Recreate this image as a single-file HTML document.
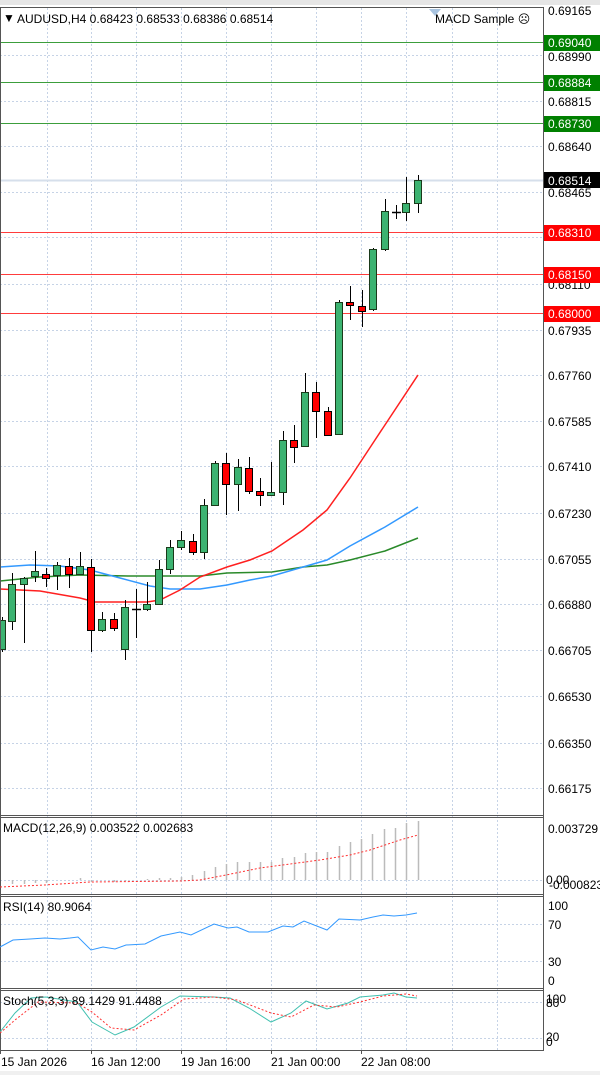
<!DOCTYPE html>
<html><head><meta charset="utf-8"><style>
html,body{margin:0;padding:0;background:#fff;width:600px;height:1075px;overflow:hidden}
svg{display:block}
text{font-family:"Liberation Sans",sans-serif;font-size:12px;fill:#000}
</style></head><body>
<svg width="600" height="1075" viewBox="0 0 600 1075">
<rect x="0" y="0" width="600" height="1075" fill="#fff"/>
<rect x="0" y="0" width="600" height="5" fill="#e6e6e6"/>
<!-- vertical grid -->
<g stroke="#c6d3e6" stroke-width="1" stroke-dasharray="2,2">
<line x1="47.5" y1="8" x2="47.5" y2="1050"/><line x1="91.5" y1="8" x2="91.5" y2="1050"/><line x1="136.5" y1="8" x2="136.5" y2="1050"/><line x1="181.5" y1="8" x2="181.5" y2="1050"/><line x1="226.5" y1="8" x2="226.5" y2="1050"/><line x1="271.5" y1="8" x2="271.5" y2="1050"/><line x1="316.5" y1="8" x2="316.5" y2="1050"/><line x1="361.5" y1="8" x2="361.5" y2="1050"/><line x1="406.5" y1="8" x2="406.5" y2="1050"/><line x1="452.5" y1="8" x2="452.5" y2="1050"/><line x1="497.5" y1="8" x2="497.5" y2="1050"/>
</g>
<g stroke="#c6d3e6" stroke-width="1" stroke-dasharray="2,2">
<line x1="0" y1="55.5" x2="543" y2="55.5"/><line x1="0" y1="101.5" x2="543" y2="101.5"/><line x1="0" y1="146.5" x2="543" y2="146.5"/><line x1="0" y1="192.5" x2="543" y2="192.5"/><line x1="0" y1="237.5" x2="543" y2="237.5"/><line x1="0" y1="284.5" x2="543" y2="284.5"/><line x1="0" y1="330.5" x2="543" y2="330.5"/><line x1="0" y1="375.5" x2="543" y2="375.5"/><line x1="0" y1="421.5" x2="543" y2="421.5"/><line x1="0" y1="466.5" x2="543" y2="466.5"/><line x1="0" y1="513.5" x2="543" y2="513.5"/><line x1="0" y1="559.5" x2="543" y2="559.5"/><line x1="0" y1="604.5" x2="543" y2="604.5"/><line x1="0" y1="650.5" x2="543" y2="650.5"/><line x1="0" y1="696.5" x2="543" y2="696.5"/><line x1="0" y1="743.5" x2="543" y2="743.5"/><line x1="0" y1="788.5" x2="543" y2="788.5"/>
<line x1="0" y1="880.5" x2="543" y2="880.5"/>
<line x1="0" y1="924.5" x2="543" y2="924.5"/><line x1="0" y1="961.5" x2="543" y2="961.5"/>
<line x1="0" y1="1002.5" x2="543" y2="1002.5"/><line x1="0" y1="1038.5" x2="543" y2="1038.5"/>
</g>
<!-- levels -->
<line x1="0" y1="180.5" x2="543" y2="180.5" stroke="#d6dfeb" stroke-width="2"/>
<g stroke="#3c9e3c" stroke-width="1"><line x1="0" y1="42.5" x2="543" y2="42.5"/><line x1="0" y1="82.5" x2="543" y2="82.5"/><line x1="0" y1="123.5" x2="543" y2="123.5"/></g>
<g stroke="#ff3c3c" stroke-width="1"><line x1="0" y1="232.5" x2="543" y2="232.5"/><line x1="0" y1="274.5" x2="543" y2="274.5"/><line x1="0" y1="313.5" x2="543" y2="313.5"/></g>
<!-- MAs -->
<polyline fill="none" stroke="#2a8a2a" stroke-width="1.5" points="0,581 40,577 80,575 130,576 200,576 227,573 272,572 303,567 327,565 350,560 385,551 418,538"/>
<polyline fill="none" stroke="#3399ff" stroke-width="1.5" points="0,567 30,565 60,566 90,570 120,578 150,586 170,589 200,589 227,585 250,580 272,576 303,567 327,560 350,546 385,527 418,507"/>
<polyline fill="none" stroke="#ff2020" stroke-width="1.5" points="0,589 40,591 80,598 95,602 147,602 160,600 180,590 200,577 227,567 250,560 272,551 303,530 327,510 350,478 375,440 418,375"/>
<!-- candles -->
<g stroke="#000" stroke-width="1">
<line x1="2.5" y1="617" x2="2.5" y2="652"/><line x1="12.5" y1="573" x2="12.5" y2="630"/><line x1="24.5" y1="577" x2="24.5" y2="643"/><line x1="35.5" y1="551" x2="35.5" y2="582"/><line x1="46.5" y1="568" x2="46.5" y2="587"/><line x1="57.5" y1="562" x2="57.5" y2="590"/><line x1="69.5" y1="558" x2="69.5" y2="588"/><line x1="80.5" y1="552" x2="80.5" y2="575"/><line x1="91.5" y1="559" x2="91.5" y2="652"/><line x1="102.5" y1="612" x2="102.5" y2="632"/><line x1="114.5" y1="613" x2="114.5" y2="631"/><line x1="125.5" y1="600" x2="125.5" y2="660"/><line x1="136.5" y1="589" x2="136.5" y2="638"/><line x1="147.5" y1="582" x2="147.5" y2="611"/><line x1="159.5" y1="560" x2="159.5" y2="604"/><line x1="170.5" y1="540" x2="170.5" y2="574"/><line x1="181.5" y1="531" x2="181.5" y2="550"/><line x1="193.5" y1="534" x2="193.5" y2="555"/><line x1="204.5" y1="499" x2="204.5" y2="559"/><line x1="215.5" y1="461" x2="215.5" y2="505"/><line x1="226.5" y1="453" x2="226.5" y2="515"/><line x1="238.5" y1="459" x2="238.5" y2="511"/><line x1="249.5" y1="457" x2="249.5" y2="494"/><line x1="260.5" y1="478" x2="260.5" y2="506"/><line x1="271.5" y1="462" x2="271.5" y2="496"/><line x1="283.5" y1="431" x2="283.5" y2="505"/><line x1="294.5" y1="425" x2="294.5" y2="463"/><line x1="305.5" y1="373" x2="305.5" y2="447"/><line x1="316.5" y1="382" x2="316.5" y2="438"/><line x1="328.5" y1="407" x2="328.5" y2="436"/><line x1="339.5" y1="300" x2="339.5" y2="435"/><line x1="350.5" y1="286" x2="350.5" y2="320"/><line x1="362.5" y1="290" x2="362.5" y2="327"/><line x1="373.5" y1="248" x2="373.5" y2="311"/><line x1="385.5" y1="199" x2="385.5" y2="251"/><line x1="396.5" y1="205" x2="396.5" y2="219"/><line x1="406.5" y1="177" x2="406.5" y2="221"/><line x1="418.5" y1="175" x2="418.5" y2="213"/>
</g>
<g stroke="#1a3a1a" stroke-width="1" fill="#3cb371">
<rect x="-1.5" y="620.5" width="7" height="29"/><rect x="8.5" y="584.5" width="7" height="37"/><rect x="20.5" y="578.5" width="7" height="6"/><rect x="31.5" y="571.5" width="7" height="5"/><rect x="53.5" y="565.5" width="7" height="10"/><rect x="76.5" y="566.5" width="7" height="8"/><rect x="98.5" y="619.5" width="7" height="11"/><rect x="121.5" y="607.5" width="7" height="42"/><rect x="143.5" y="604.5" width="7" height="5"/><rect x="155.5" y="569.5" width="7" height="35"/><rect x="166.5" y="547.5" width="7" height="22"/><rect x="177.5" y="540.5" width="7" height="7"/><rect x="200.5" y="505.5" width="7" height="47"/><rect x="211.5" y="463.5" width="7" height="42"/><rect x="234.5" y="467.5" width="7" height="17"/><rect x="267.5" y="492.5" width="7" height="3"/><rect x="279.5" y="440.5" width="7" height="52"/><rect x="301.5" y="392.5" width="7" height="54"/><rect x="335.5" y="302.5" width="7" height="132"/><rect x="369.5" y="249.5" width="7" height="60"/><rect x="381.5" y="211.5" width="7" height="38"/><rect x="402.5" y="203.5" width="7" height="9"/><rect x="414.5" y="180.5" width="7" height="23"/>
</g>
<g stroke="#000" stroke-width="1" fill="#ff0000">
<rect x="42.5" y="574.5" width="7" height="4"/><rect x="65.5" y="566.5" width="7" height="8"/><rect x="87.5" y="567.5" width="7" height="63"/><rect x="110.5" y="619.5" width="7" height="9"/><rect x="189.5" y="541.5" width="7" height="11"/><rect x="222.5" y="463.5" width="7" height="21"/><rect x="245.5" y="468.5" width="7" height="23"/><rect x="256.5" y="491.5" width="7" height="4"/><rect x="290.5" y="440.5" width="7" height="7"/><rect x="312.5" y="392.5" width="7" height="19"/><rect x="324.5" y="411.5" width="7" height="24"/><rect x="346.5" y="302.5" width="7" height="3"/><rect x="358.5" y="306.5" width="7" height="5"/>
</g>
<g stroke="#000" stroke-width="1.5"><line x1="132" y1="609.5" x2="141" y2="609.5"/><line x1="392" y1="212.5" x2="401" y2="212.5"/></g>
<!-- panel borders -->
<g fill="none" stroke="#555" stroke-width="1">
<line x1="0.5" y1="7" x2="0.5" y2="1050"/>
<line x1="0" y1="7.5" x2="544" y2="7.5"/>
<line x1="543.5" y1="7" x2="543.5" y2="1050"/>
<line x1="0" y1="815.5" x2="544" y2="815.5"/><line x1="0" y1="817.5" x2="544" y2="817.5"/>
<line x1="0" y1="894.5" x2="544" y2="894.5"/><line x1="0" y1="896.5" x2="544" y2="896.5"/>
<line x1="0" y1="988.5" x2="544" y2="988.5"/><line x1="0" y1="990.5" x2="544" y2="990.5"/>
<line x1="0" y1="1050.5" x2="544" y2="1050.5"/>
</g>
<polygon points="429,9 441,9 435,16" fill="#a9c4e0"/>
<text x="3" y="22" font-size="9">▼</text>
<text x="17" y="23">AUDUSD,H4  0.68423 0.68533 0.68386 0.68514</text>
<text x="435" y="23">MACD Sample ☹</text>
<!-- right axis labels -->
<g>
<text x="548" y="15">0.69165</text><text x="548" y="61">0.68990</text><text x="548" y="106">0.68815</text><text x="548" y="151">0.68640</text><text x="548" y="197">0.68465</text><text x="548" y="289">0.68110</text><text x="548" y="335">0.67935</text><text x="548" y="380">0.67760</text><text x="548" y="426">0.67585</text><text x="548" y="471">0.67410</text><text x="548" y="518">0.67230</text><text x="548" y="564">0.67055</text><text x="548" y="609">0.66880</text><text x="548" y="655">0.66705</text><text x="548" y="701">0.66530</text><text x="548" y="748">0.66350</text><text x="548" y="793">0.66175</text>
</g>
<rect x="544" y="35" width="56" height="16" fill="#008000"/><text x="548" y="47" style="fill:#fff">0.69040</text>
<rect x="544" y="75" width="56" height="16" fill="#008000"/><text x="548" y="87" style="fill:#fff">0.68884</text>
<rect x="544" y="116" width="56" height="16" fill="#008000"/><text x="548" y="128" style="fill:#fff">0.68730</text>
<rect x="544" y="172" width="56" height="16" fill="#000"/><text x="548" y="185" style="fill:#fff">0.68514</text>
<rect x="544" y="225" width="56" height="16" fill="#ff0000"/><text x="548" y="237" style="fill:#fff">0.68310</text>
<rect x="544" y="267" width="56" height="16" fill="#ff0000"/><text x="548" y="279" style="fill:#fff">0.68150</text>
<rect x="544" y="306" width="56" height="16" fill="#ff0000"/><text x="548" y="318" style="fill:#fff">0.68000</text>
<!-- MACD -->
<text x="3" y="832">MACD(12,26,9) 0.003522 0.002683</text>
<g stroke="#bbbbbb" stroke-width="1.5">
<line x1="12.5" y1="880" x2="12.5" y2="884"/><line x1="24.5" y1="880" x2="24.5" y2="884"/><line x1="35.5" y1="880" x2="35.5" y2="883"/><line x1="46.5" y1="880" x2="46.5" y2="883"/><line x1="80.5" y1="880" x2="80.5" y2="878"/><line x1="91.5" y1="880" x2="91.5" y2="882"/><line x1="114.5" y1="880" x2="114.5" y2="882"/><line x1="125.5" y1="880" x2="125.5" y2="881"/><line x1="147.5" y1="880" x2="147.5" y2="879"/><line x1="159.5" y1="880" x2="159.5" y2="878"/><line x1="170.5" y1="880" x2="170.5" y2="878"/>
<line x1="181.5" y1="880" x2="181.5" y2="877"/><line x1="192.5" y1="880" x2="192.5" y2="875"/><line x1="204.5" y1="880" x2="204.5" y2="871"/><line x1="215.5" y1="880" x2="215.5" y2="867"/><line x1="226.5" y1="880" x2="226.5" y2="864"/><line x1="237.5" y1="880" x2="237.5" y2="862"/><line x1="249.5" y1="880" x2="249.5" y2="862"/><line x1="260.5" y1="880" x2="260.5" y2="862"/><line x1="271.5" y1="880" x2="271.5" y2="862"/><line x1="282.5" y1="880" x2="282.5" y2="858"/><line x1="294.5" y1="880" x2="294.5" y2="857"/><line x1="305.5" y1="880" x2="305.5" y2="853"/><line x1="316.5" y1="880" x2="316.5" y2="852"/><line x1="327.5" y1="880" x2="327.5" y2="852"/><line x1="339.5" y1="880" x2="339.5" y2="846"/><line x1="350.5" y1="880" x2="350.5" y2="842"/><line x1="361.5" y1="880" x2="361.5" y2="839"/><line x1="372.5" y1="880" x2="372.5" y2="834"/><line x1="384.5" y1="880" x2="384.5" y2="829"/><line x1="395.5" y1="880" x2="395.5" y2="828"/><line x1="406.5" y1="880" x2="406.5" y2="823"/><line x1="418.5" y1="880" x2="418.5" y2="821"/>
</g>
<polyline fill="none" stroke="#ff3030" stroke-width="1" stroke-dasharray="2,2" points="0,887 45,885 90,882 180,881 200,880 226,875 260,868 290,864 320,860 350,855 370,850 385,845 400,840 418,835"/>
<text x="548" y="833">0.003729</text>
<text x="546" y="884">0.00</text><text x="549" y="889">-0.000823</text>
<!-- RSI -->
<text x="3" y="911">RSI(14) 80.9064</text>
<polyline fill="none" stroke="#3399ff" stroke-width="1" points="0,947 13,940 30,939 45,938 60,939 70,938 78,937 91,950 103,947 115,949 126,945 145,944 161,936 180,932 191,935 214,924 228,928 237,927 249,932 268,932 283,926 293,927 304,921 327,930 339,919 360,920 373,917 383,915 394,916 406,915 417,913"/>
<text x="548" y="910">100</text><text x="548" y="929">70</text><text x="548" y="966">30</text><text x="548" y="985">0</text>
<!-- Stoch -->
<polyline fill="none" stroke="#40c0b0" stroke-width="1" points="0,1032 15,1013 31,998 46,997 77,1002 92,1022 115,1035 134,1027 161,1007 180,996 214,997 230,998 249,1008 271,1022 291,1013 306,1001 327,1009 348,1003 360,997 383,995 394,993 406,997 417,998"/>
<polyline fill="none" stroke="#ff3030" stroke-width="1" stroke-dasharray="2,2" points="0,1033 15,1020 38,1002 77,1003 92,1012 111,1028 134,1030 161,1015 184,999 214,997 237,1000 271,1013 291,1017 314,1005 337,1007 360,1002 383,996 406,994 417,996"/>
<text x="3" y="1005">Stoch(5,3,3) 89.1429 91.4488</text>
<text x="546" y="1003">100</text><text x="546" y="1007">80</text>
<text x="546" y="1041">20</text><text x="546" y="1046">0</text>
<!-- time axis -->
<g stroke="#555"><line x1="0.5" y1="1050" x2="0.5" y2="1054"/><line x1="91.5" y1="1050" x2="91.5" y2="1054"/><line x1="181.5" y1="1050" x2="181.5" y2="1054"/><line x1="271.5" y1="1050" x2="271.5" y2="1054"/><line x1="361.5" y1="1050" x2="361.5" y2="1054"/></g>
<text x="1" y="1066">15 Jan 2026</text><text x="91" y="1066">16 Jan 12:00</text><text x="181" y="1066">19 Jan 16:00</text><text x="271" y="1066">21 Jan 00:00</text><text x="361" y="1066">22 Jan 08:00</text>
<rect x="0" y="1071" width="600" height="4" fill="#f0f0f0"/>
</svg>
</body></html>
